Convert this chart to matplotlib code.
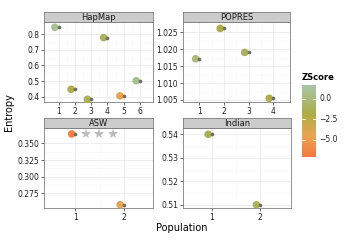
import matplotlib
matplotlib.use("Agg")
import matplotlib.pyplot as plt
import matplotlib.transforms as mtransforms
from matplotlib.colors import LinearSegmentedColormap, Normalize
from matplotlib.ticker import FixedLocator
import numpy as np

# facet data
hapmap_x = [1, 2, 3, 4, 5, 6]
hapmap_y = [0.843, 0.447, 0.383, 0.777, 0.405, 0.502]
hapmap_z = [1.0, -1.5, -1.2, -1.0, -4.6, 0.8]

popres_x = [1, 2, 3, 4]
popres_y = [1.0172, 1.0262, 1.0191, 1.0055]
popres_z = [0.0, -1.8, -1.3, -2.0]

asw_x = [1, 2]
asw_y = [0.364, 0.258]
asw_z = [-6.6, -4.2]
asw_star_x = [1.22, 1.49, 1.77]
asw_star_y = [0.364, 0.364, 0.364]

indian_x = [1, 2]
indian_y = [0.540, 0.510]
indian_z = [-1.5, -1.1]

ZMIN, ZMAX = -7.1, 1.7

cmap = LinearSegmentedColormap.from_list(
    "zs", [(0.0, "#F47940"), (0.3, "#E9A552"), (0.6, "#ACAD45"), (1.0, "#A8C6AA")])
norm = Normalize(ZMIN, ZMAX)

W, H = 360, 240
fig = plt.figure(figsize=(3.6, 2.4), dpi=100)


def px_axes(left, top, right, bottom):
    return fig.add_axes([left / W, 1 - bottom / H, (right - left) / W, (bottom - top) / H])


def panel(left, top, right, bottom, title, x, y, z, xlim, ylim, yticks, yfmt, xticks):
    ax = px_axes(left, top, right, bottom)
    ax.set_xlim(*xlim)
    ax.set_ylim(*ylim)
    ax.set_xticks(xticks)
    ax.set_xticklabels([str(t) for t in xticks])
    ax.set_yticks(yticks)
    ax.set_yticklabels([yfmt.format(t) for t in yticks])
    xm = [t + 0.5 for t in xticks[:-1]]
    ym = [(a + b) / 2 for a, b in zip(yticks[:-1], yticks[1:])]
    ax.xaxis.set_minor_locator(FixedLocator(xm))
    ax.yaxis.set_minor_locator(FixedLocator(ym))
    ax.grid(which="major", color="#EBEBEB", linewidth=0.6)
    ax.grid(which="minor", color="#F7F7F7", linewidth=0.4)
    ax.set_axisbelow(True)
    ax.tick_params(which="major", length=2, width=0.5, color="#333333",
                   labelsize=5.5, pad=1.5, labelcolor="#222222")
    ax.tick_params(which="minor", length=0)
    for s in ax.spines.values():
        s.set_color("#7F7F7F")
        s.set_linewidth(0.6)
    shift = mtransforms.ScaledTranslation(-3.8 / 100, 0, fig.dpi_scale_trans)
    ax.scatter(x, y, c=z, cmap=cmap, norm=norm, s=30, linewidths=0,
               transform=ax.transData + shift, zorder=3, clip_on=False)
    ax.scatter(x, y, color="#6E6E6E", s=7, linewidths=0, zorder=4, clip_on=False)
    # strip
    st = px_axes(left, top - 10, right, top)
    st.set_facecolor("#CCCCCC")
    st.set_xticks([])
    st.set_yticks([])
    for s in st.spines.values():
        s.set_color("#7F7F7F")
        s.set_linewidth(0.6)
    st.text(0.5, 0.45, title, ha="center", va="center", fontsize=6, color="#1A1A1A",
            transform=st.transAxes)
    return ax


panel(44, 22, 153, 102, "HapMap", hapmap_x, hapmap_y, hapmap_z,
      (0.1, 6.8), (0.366, 0.877), [0.4, 0.5, 0.6, 0.7, 0.8], "{:.1f}", [1, 2, 3, 4, 5, 6])
panel(183, 22, 290, 102, "POPRES", popres_x, popres_y, popres_z,
      (0.33, 4.69), (1.0044, 1.0281), [1.005, 1.010, 1.015, 1.020, 1.025], "{:.3f}", [1, 2, 3, 4])
ax_asw = panel(44, 128, 153, 208, "ASW", asw_x, asw_y, asw_z,
               (0.35, 2.6), (0.253, 0.373), [0.275, 0.300, 0.325, 0.350], "{:.3f}", [1, 2])
ax_asw.plot(asw_star_x, asw_star_y, linestyle="none", marker="*", markersize=8,
            color="#BDBDBD", markeredgewidth=0, zorder=2)
panel(183, 128, 291, 208, "Indian", indian_x, indian_y, indian_z,
      (0.4, 2.64), (0.5086, 0.5427), [0.51, 0.52, 0.53, 0.54], "{:.2f}", [1, 2])

fig.text(182 / W, 1 - 228 / H, "Population", ha="center", va="center", fontsize=7)
fig.text(9 / W, 1 - 112 / H, "Entropy", ha="center", va="center", fontsize=7, rotation=90)

# colour bar legend
cax = px_axes(302, 85, 316, 157)
grad = np.linspace(ZMIN, ZMAX, 200).reshape(-1, 1)
cax.imshow(grad, aspect="auto", cmap=cmap, norm=norm, origin="lower",
           extent=(0, 1, ZMIN, ZMAX))
cax.set_xlim(0, 1)
cax.set_ylim(ZMIN, ZMAX)
cax.set_xticks([])
cax.set_yticks([])
for s in cax.spines.values():
    s.set_visible(False)
for v in [0.0, -2.5, -5.0]:
    cax.plot([0, 0.2], [v, v], color="white", linewidth=0.6)
    cax.plot([0.8, 1], [v, v], color="white", linewidth=0.6)
    cax.text(1.25, v, "{:.1f}".format(v).replace("-", "\u2212"), ha="left", va="center",
             fontsize=5.5, color="#222222", transform=cax.transData, clip_on=False)
fig.text(302 / W, 1 - 77 / H, "ZScore", ha="left", va="center", fontsize=6, fontweight="bold")

fig.savefig("out.png", dpi=100)
